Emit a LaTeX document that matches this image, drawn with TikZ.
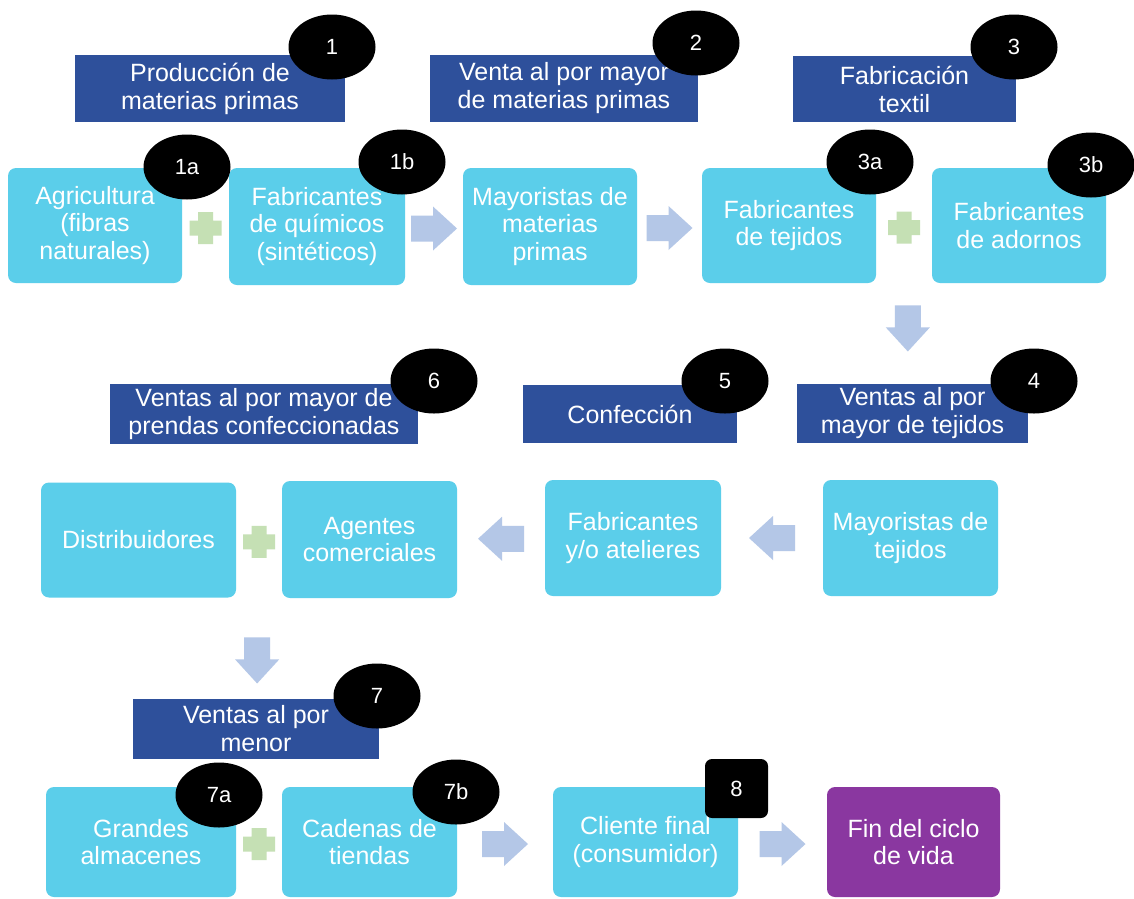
\documentclass[tikz,border=0pt]{standalone}
\usepackage{fontspec}
\setmainfont{Liberation Sans}
\usetikzlibrary{shapes.geometric, calc, positioning}
\definecolor{celeste}{HTML}{5BCEEA}
\definecolor{azuloscuro}{HTML}{2E509B}
\definecolor{morado}{HTML}{8A37A0}
\definecolor{flechaazul}{HTML}{B4C7E7}
\definecolor{masverde}{HTML}{C5E0B4}
\tikzset{%
  % Estilos de los nodos:
            caja/.style = {rounded corners=8pt, fill=celeste, text=white,
                            minimum width=174pt, minimum height=115pt, align=center,
                            font=\fontsize{25}{27.5}\selectfont},
            titulo/.style = {fill=azuloscuro, text=white, minimum height=62pt,
                            align=center, font=\fontsize{25}{28}\selectfont},
            numero/.style = {ellipse, fill=black, text=white, minimum width=87pt,
                            minimum height=65pt, font=\fontsize{22}{24}\selectfont},
  % Flechas y signos:
            flecha/.pic = {\fill[flechaazul] (-23,-13) -- (-1,-13) -- (-1,-22) -- (23,0)
                            -- (-1,22) -- (-1,13) -- (-23,13) -- cycle;},
            mas/.pic = {\fill[masverde] (-16,-7.5) -- (-7.5,-7.5) -- (-7.5,-16) -- (7.5,-16)
                            -- (7.5,-7.5) -- (16,-7.5) -- (16,7.5) -- (7.5,7.5) -- (7.5,16)
                            -- (-7.5,16) -- (-7.5,7.5) -- (-16,7.5) -- cycle;}
}
\begin{document}
\begin{tikzpicture}[x=1pt, y=-1pt]
                        \useasboundingbox[fill=white] (0,0) rectangle (1134,898);
                        % fila 1
                        \node[caja] (agri) at (95,225.5) {Agricultura\\(fibras\\naturales)};
                        \node[caja, minimum width=176pt, minimum height=117pt] (quim) at (317,226.5) {Fabricantes\\de químicos\\(sintéticos)};
                        \node[caja, minimum height=117pt] (mayo) at (550,226.5) {Mayoristas de\\materias\\primas};
                        \node[caja] (teji) at (789,225.5) {Fabricantes\\de tejidos};
                        \node[caja] (ador) at (1019,225.5) {Fabricantes\\de adornos};
                        % fila 2
                        \node[caja, minimum width=195pt] (dist) at (138.5,540) {Distribuidores};
                        \node[caja, minimum width=175pt, minimum height=117pt] (agen) at (369.5,539.5) {Agentes\\comerciales};
                        \node[caja, minimum width=176pt, minimum height=116pt] (fabr) at (633,538) {Fabricantes\\y/o atelieres};
                        \node[caja, minimum width=175pt, minimum height=116pt] (mayt) at (910.5,538) {Mayoristas de\\tejidos};
                        % fila 3
                        \node[caja, minimum width=190pt, minimum height=110pt] (gran) at (141,842) {Grandes\\almacenes};
                        \node[caja, minimum width=175pt, minimum height=110pt] (cade) at (369.5,842) {Cadenas de\\tiendas};
                        \node[caja, minimum width=185pt, minimum height=110pt] (clie) at (645.5,842) {Cliente final\\(consumidor)};
                        \node[caja, fill=morado, minimum width=173pt, minimum height=110pt] (fin) at (913.5,842) {Fin del ciclo\\de vida};
                        % encabezados
                        \node[titulo, minimum width=270pt, minimum height=67pt] (prod) at (210,88.5) {Producción de\\materias primas};
                        \node[titulo, minimum width=268pt, minimum height=67pt] (vmat) at (564,88.5) {Venta al por mayor\\de materias primas};
                        \node[titulo, minimum width=223pt, minimum height=66pt] (ftex) at (904.5,89) {Fabricación\\textil};
                        \node[titulo, minimum width=308pt, minimum height=60pt] (vpre) at (264,414) {Ventas al por mayor de\\prendas confeccionadas};
                        \node[titulo, minimum width=214pt, minimum height=58pt] (conf) at (630,414) {Confección};
                        \node[titulo, minimum width=231pt, minimum height=59pt] (vtej) at (912.5,413.5) {Ventas al por\\mayor de tejidos};
                        \node[titulo, minimum width=246pt, minimum height=60pt] (vmen) at (256,729) {Ventas al por\\menor};
                        % signos mas
                        \foreach\a/\b in {agri/quim, teji/ador, dist/agen, gran/cade}{
                            \pic at ([yshift=-2pt]$(\a.east)!.5!(\b.west)$) {mas};
                        }
                        % flechas
                        \foreach\a/\b in {quim/mayo, mayo/teji, cade/clie, clie/fin}{
                            \pic at ([yshift=-2pt]$(\a.east)!.5!(\b.west)$) {flecha};
                        }
                        \foreach\a/\b in {mayt/fabr, fabr/agen}{
                            \pic[rotate=180] at ($(\a.west)!.5!(\b.east)$) {flecha};
                        }
                        \coordinate (m1) at ($(teji.south east)!.5!(ador.south west)$);
                        \coordinate (m2) at ($(dist.south east)!.5!(agen.south west)$);
                        \pic[rotate=-90] at ($(m1)!.45!(vtej.north)$) {flecha};
                        \pic[rotate=-90] at ($(m2)!.62!(vmen.north)$) {flecha};
                        % numeros
                        \foreach\n/\x/\y in {1/332/47, 2/696/43, 3/1014/47, 1a/187/167, 1b/402/162,
                            3a/870/162, 3b/1091/165, 6/434/381, 5/725/381, 4/1034/381,
                            7/377/696, 7a/219/795, 7b/456/792}{
                            \node[numero] (n\n) at (\x,\y) {\n};
                        }
                        \node[fill=black, text=white, rounded corners=7pt, minimum width=63pt,
                            minimum height=59pt, font=\fontsize{22}{24}\selectfont] (n8) at (736.5,788.5) {8};
                    \end{tikzpicture}
\end{document}
